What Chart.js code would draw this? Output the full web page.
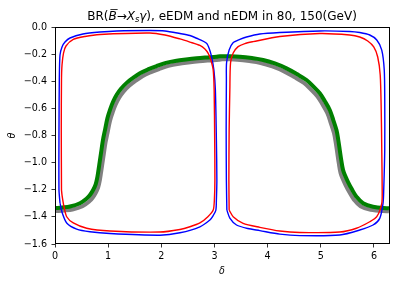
<!DOCTYPE html>
<html>
<head>
<meta charset="utf-8">
<script src="https://cdn.jsdelivr.net/npm/chart.js@4.4.0/dist/chart.umd.min.js"></script>
<style>
  html, body { margin: 0; padding: 0; background: #fff; }
  canvas { display: block; }
</style>
</head>
<body>
<canvas id="chart" width="400" height="284"></canvas>
<script>
// axis ticks
const xTicks = [0, 1, 2, 3, 4, 5, 6];
const yTicks = [0, -0.2, -0.4, -0.6, -0.8, -1.0, -1.2, -1.4, -1.6];

// blue contour, left lobe
const deltaBlueL = [0.094, 0.075, 0.075, 0.081, 0.094, 0.132, 0.188, 0.282, 0.526, 0.846, 1.165, 1.786, 2.068, 2.350, 2.538, 2.663, 2.851, 2.904, 2.945, 2.989, 3.017, 3.036, 3.045, 3.036, 3.026, 2.970, 2.914, 2.726, 2.350, 1.974, 1.034, 0.658, 0.408, 0.220, 0.137, 0.094];
const thetaBlueL = [-1.298, -1.202, -0.760, -0.391, -0.206, -0.147, -0.111, -0.081, -0.052, -0.037, -0.029, -0.026, -0.029, -0.048, -0.063, -0.083, -0.120, -0.162, -0.219, -0.317, -0.465, -0.833, -1.128, -1.276, -1.350, -1.394, -1.423, -1.473, -1.517, -1.535, -1.523, -1.510, -1.490, -1.445, -1.372, -1.298];

// blue contour, right lobe
const deltaBlueR = [3.233, 3.224, 3.220, 3.224, 3.227, 3.276, 3.346, 3.477, 3.603, 3.853, 4.229, 4.981, 5.545, 5.733, 5.921, 6.053, 6.147, 6.194, 6.203, 6.203, 6.184, 6.171, 6.109, 5.983, 5.733, 5.357, 4.605, 4.229, 3.853, 3.628, 3.415, 3.289, 3.233];
const thetaBlueR = [-1.350, -1.128, -0.760, -0.391, -0.265, -0.170, -0.118, -0.092, -0.074, -0.052, -0.041, -0.029, -0.033, -0.041, -0.059, -0.096, -0.170, -0.317, -0.538, -0.907, -1.202, -1.300, -1.411, -1.460, -1.497, -1.534, -1.538, -1.527, -1.501, -1.486, -1.460, -1.409, -1.350];

// red contour, left lobe
const deltaRedL = [0.122, 0.118, 0.122, 0.132, 0.160, 0.207, 0.344, 0.564, 0.846, 1.786, 2.068, 2.350, 2.538, 2.726, 2.820, 2.882, 2.932, 2.976, 2.994, 3.004, 3.008, 2.998, 2.976, 2.876, 2.726, 2.538, 2.350, 1.974, 1.034, 0.596, 0.344, 0.220, 0.169, 0.132, 0.122];
const thetaRedL = [-1.202, -0.760, -0.391, -0.280, -0.192, -0.140, -0.092, -0.070, -0.055, -0.044, -0.059, -0.088, -0.111, -0.136, -0.162, -0.194, -0.243, -0.317, -0.465, -0.833, -1.128, -1.276, -1.350, -1.399, -1.445, -1.473, -1.493, -1.512, -1.504, -1.484, -1.445, -1.399, -1.325, -1.239, -1.202];

// red contour, right lobe
const deltaRedR = [3.276, 3.271, 3.276, 3.289, 3.302, 3.352, 3.445, 3.571, 3.727, 4.229, 4.981, 5.545, 5.733, 5.883, 5.996, 6.071, 6.118, 6.137, 6.147, 6.155, 6.147, 6.053, 5.921, 5.671, 5.357, 4.605, 4.229, 3.853, 3.539, 3.352, 3.276];
const thetaRedR = [-1.350, -1.128, -0.760, -0.465, -0.265, -0.192, -0.145, -0.122, -0.108, -0.070, -0.048, -0.059, -0.074, -0.103, -0.147, -0.221, -0.354, -0.612, -0.907, -1.202, -1.300, -1.399, -1.436, -1.484, -1.512, -1.515, -1.504, -1.477, -1.448, -1.399, -1.350];

// green band
const deltaGreen = [0, 0.132, 0.282, 0.470, 0.596, 0.658, 0.720, 0.765, 0.795, 0.818, 0.846, 0.874, 0.902, 0.940, 0.987, 1.034, 1.090, 1.160, 1.241, 1.348, 1.466, 1.598, 1.748, 1.912, 2.086, 2.288, 2.462, 2.664, 2.838, 3.039, 3.102, 3.289, 3.477, 3.703, 3.915, 4.135, 4.355, 4.549, 4.731, 4.868, 4.981, 5.075, 5.169, 5.235, 5.295, 5.329, 5.357, 5.385, 5.419, 5.461, 5.513, 5.583, 5.671, 5.795, 5.983, 6.283];
const thetaGreen = [-1.335, -1.331, -1.324, -1.300, -1.265, -1.239, -1.200, -1.160, -1.110, -1.055, -0.981, -0.907, -0.833, -0.760, -0.671, -0.612, -0.553, -0.500, -0.455, -0.412, -0.376, -0.341, -0.313, -0.288, -0.265, -0.249, -0.240, -0.231, -0.225, -0.219, -0.216, -0.216, -0.219, -0.229, -0.243, -0.269, -0.305, -0.347, -0.391, -0.442, -0.489, -0.546, -0.612, -0.686, -0.760, -0.833, -0.907, -0.981, -1.055, -1.099, -1.143, -1.195, -1.251, -1.300, -1.325, -1.337];

// grey band
const deltaGrey = [0, 0.179, 0.329, 0.517, 0.643, 0.705, 0.767, 0.812, 0.842, 0.865, 0.893, 0.921, 0.949, 0.987, 1.034, 1.081, 1.137, 1.207, 1.288, 1.395, 1.513, 1.645, 1.795, 1.959, 2.133, 2.335, 2.509, 2.711, 2.885, 3.086, 3.149, 3.242, 3.430, 3.656, 3.868, 4.088, 4.308, 4.502, 4.684, 4.821, 4.934, 5.028, 5.122, 5.188, 5.248, 5.282, 5.310, 5.338, 5.372, 5.414, 5.466, 5.536, 5.624, 5.748, 5.936, 6.283];
const thetaGrey = [-1.357, -1.353, -1.346, -1.322, -1.287, -1.261, -1.222, -1.182, -1.132, -1.077, -1.003, -0.929, -0.855, -0.782, -0.693, -0.634, -0.575, -0.522, -0.477, -0.434, -0.398, -0.363, -0.335, -0.310, -0.287, -0.271, -0.262, -0.253, -0.247, -0.241, -0.238, -0.238, -0.241, -0.251, -0.265, -0.291, -0.327, -0.369, -0.413, -0.464, -0.511, -0.568, -0.634, -0.708, -0.782, -0.855, -0.929, -1.003, -1.077, -1.121, -1.165, -1.217, -1.273, -1.322, -1.347, -1.359];

const FONT = 'DejaVu Sans';

function pts(xs, ys) {
  return xs.map((x, i) => ({ x: x, y: ys[i] }));
}

function line(data, color, width, order, tension) {
  return {
    data: data,
    showLine: true,
    borderColor: color,
    backgroundColor: color,
    borderWidth: width,
    pointRadius: 0,
    tension: tension,
    fill: false,
    order: order
  };
}

function fmtTick(v) {
  if (Math.abs(v) < 1e-9) return '0.0';
  return '\u2212' + Math.abs(v).toFixed(1);
}

// title pieces: [text, style, extra]
const titleParts = [
  ['BR(', ''],
  ['B', 'italic', 'bar'],
  ['\u2192', ''],
  ['X', 'italic'],
  ['s', 'italic', 'sub'],
  ['\u03b3', 'italic'],
  ['), eEDM and nEDM in 80, 150(GeV)', '']
];

const decorations = {
  id: 'decorations',
  afterDraw(chart) {
    const ctx = chart.ctx;
    const a = chart.chartArea;
    ctx.save();

    // spines
    ctx.strokeStyle = '#000';
    ctx.lineWidth = 1;
    ctx.strokeRect(a.left + 0.5, a.top + 0.5, a.right - a.left, a.bottom - a.top - 1);

    // title
    const size = 12;
    const fontFor = p => (p[1] ? p[1] + ' ' : '') + (p[2] === 'sub' ? size * 0.7 : size) + 'px "' + FONT + '"';
    let total = 0;
    titleParts.forEach(p => { ctx.font = fontFor(p); total += ctx.measureText(p[0]).width; });
    let x = (a.left + a.right) / 2 - total / 2;
    const base = 20;
    ctx.fillStyle = '#000';
    ctx.textBaseline = 'alphabetic';
    ctx.textAlign = 'left';
    titleParts.forEach(p => {
      ctx.font = fontFor(p);
      const w = ctx.measureText(p[0]).width;
      const y = p[2] === 'sub' ? base + 2 : base;
      ctx.fillText(p[0], x, y);
      if (p[2] === 'bar') {
        ctx.beginPath();
        ctx.lineWidth = 0.8;
        ctx.moveTo(x + 2, base - 10.5);
        ctx.lineTo(x + w + 1, base - 10.5);
        ctx.stroke();
      }
      x += w;
    });

    // axis labels
    ctx.font = 'italic 9.6px "' + FONT + '"';
    ctx.textAlign = 'center';
    ctx.textBaseline = 'middle';
    ctx.fillText('\u03b4', (a.left + a.right) / 2, 271);
    ctx.translate(12.5, (a.top + a.bottom) / 2);
    ctx.rotate(-Math.PI / 2);
    ctx.fillText('\u03b8', 0, 0);

    ctx.restore();
  }
};

new Chart(document.getElementById('chart'), {
  type: 'scatter',
  data: {
    datasets: [
      line(pts(deltaRedL, thetaRedL), '#ff0000', 1.4, 0, 0.25),
      line(pts(deltaRedR, thetaRedR), '#ff0000', 1.4, 0, 0.25),
      line(pts(deltaBlueL, thetaBlueL), '#0000ff', 1.4, 1, 0.25),
      line(pts(deltaBlueR, thetaBlueR), '#0000ff', 1.4, 1, 0.25),
      line(pts(deltaGreen, thetaGreen), '#008000', 4, 2, 0.35),
      line(pts(deltaGrey, thetaGrey), '#808080', 4, 3, 0.35)
    ]
  },
  options: {
    responsive: false,
    animation: false,
    devicePixelRatio: 1,
    layout: { padding: { top: 27, right: 11, left: 0, bottom: 0 } },
    plugins: {
      legend: { display: false },
      title: { display: false },
      tooltip: { enabled: false }
    },
    scales: {
      x: {
        type: 'linear',
        min: 0,
        max: 2 * Math.PI,
        afterBuildTicks: s => { s.ticks = xTicks.map(v => ({ value: v })); },
        afterFit: s => { s.height = 40; },
        grid: { drawOnChartArea: false, drawTicks: true, tickLength: 3.5, color: '#000', lineWidth: 0.8 },
        border: { display: false },
        ticks: { color: '#000', padding: 3, font: { family: FONT, size: 9.6 }, callback: v => String(v) }
      },
      y: {
        type: 'linear',
        min: -1.6,
        max: 0,
        afterBuildTicks: s => { s.ticks = yTicks.map(v => ({ value: v })); },
        afterFit: s => { s.width = 55; },
        grid: { drawOnChartArea: false, drawTicks: true, tickLength: 3.5, color: '#000', lineWidth: 0.8 },
        border: { display: false },
        ticks: { color: '#000', padding: 4.5, font: { family: FONT, size: 9.6 }, callback: v => fmtTick(v) }
      }
    }
  },
  plugins: [decorations]
});
</script>
</body>
</html>
